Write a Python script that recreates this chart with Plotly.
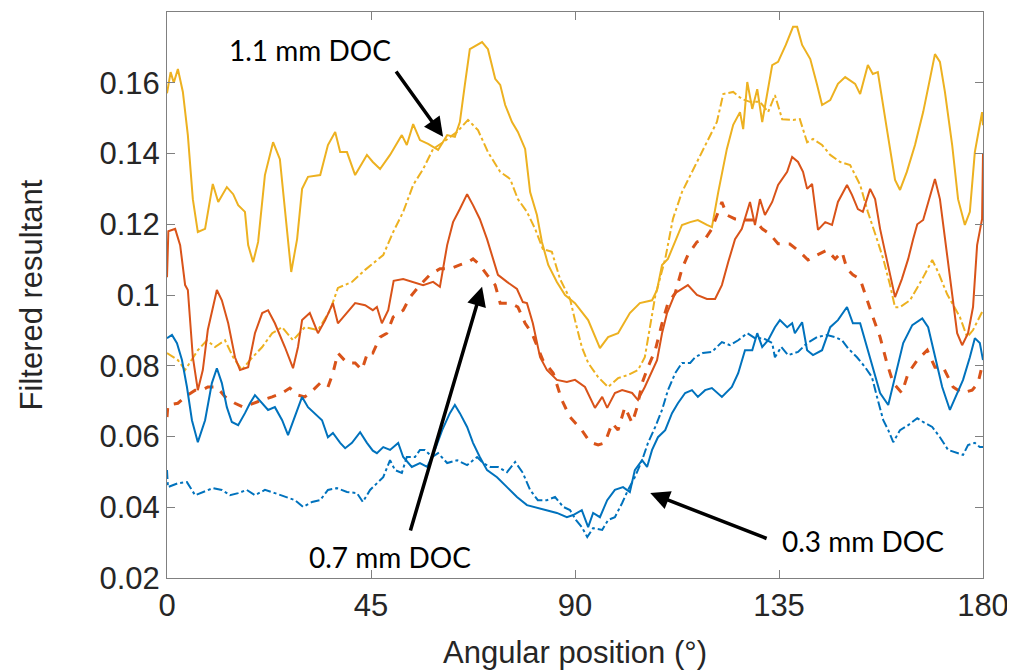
import plotly.graph_objects as go

# ---------------- data ----------------
x_y11_solid = [0, 0.8, 1.5, 2.4, 3.5, 4.6, 5.7, 6.8, 8.4, 10.1, 11.3, 13.2, 14.6, 15.7, 17.2, 17.9, 19.0, 20.1,
               21.6, 23.4, 24.9, 26.0, 27.4, 28.7, 29.8, 31.1, 33.8, 35.5, 37.1, 38.2, 39.7, 41.5, 44.1, 45.4,
               47.0, 49.2, 51.8, 52.9, 54.3, 55.8, 57.6, 59.8, 61.8, 63.5, 64.6, 65.7, 66.8, 69.5, 70.8, 72.4,
               73.5, 74.6, 76.1, 77.4, 79.0, 80.1, 81.6, 82.7, 84.1, 86.0, 87.8, 90.0, 92.9, 95.5, 97.3, 99.5,
               102.1, 104.3, 107.0, 108.1, 109.2, 110.5, 112.1, 113.6, 115.4, 117.1, 119.1, 120.2, 121.6, 123.5,
               124.9, 126.4, 127.1, 128.0, 129.1, 130.2, 131.3, 132.4, 133.5, 134.8, 136.5, 138.1, 139.0, 140.1,
               141.9, 143.4, 144.5, 146.3, 148.0, 149.6, 151.8, 152.9, 154.6, 155.7, 156.8, 158.8, 159.9, 160.6,
               161.7, 163.2, 165.0, 166.8, 168.3, 169.4, 170.5, 171.6, 173.2, 174.5, 176.0, 177.1, 178.2, 179.8, 180]
v_y11_solid = [0.157, 0.163, 0.160, 0.1639, 0.1574, 0.1452, 0.1271, 0.1178, 0.1187, 0.1314, 0.1263, 0.1305, 0.1285,
               0.1254, 0.1235, 0.1141, 0.1093, 0.1150, 0.1339, 0.1432, 0.1384, 0.1235, 0.1065, 0.1158, 0.1300,
               0.1334, 0.1339, 0.1424, 0.1461, 0.1404, 0.1404, 0.1339, 0.1396, 0.1376, 0.1356, 0.1396, 0.1452,
               0.1424, 0.1483, 0.1438, 0.1427, 0.1410, 0.1452, 0.1447, 0.1489, 0.1594, 0.1695, 0.1715, 0.1695,
               0.1611, 0.1594, 0.1537, 0.1489, 0.1461, 0.1413, 0.1291, 0.1226, 0.1150, 0.1085, 0.1037, 0.1000,
               0.0977, 0.0929, 0.0850, 0.0881, 0.0892, 0.0949, 0.0977, 0.0985, 0.1014, 0.1085, 0.1102, 0.1150,
               0.1198, 0.1206, 0.1212, 0.1198, 0.1192, 0.1291, 0.1413, 0.1481, 0.1517, 0.1469, 0.1602, 0.1526,
               0.1582, 0.1489, 0.1565, 0.1650, 0.1659, 0.1707, 0.1758, 0.1758, 0.1707, 0.1667, 0.1594, 0.1537,
               0.1551, 0.1597, 0.1616, 0.1597, 0.1568, 0.1650, 0.1625, 0.1630, 0.1469, 0.1384, 0.1325, 0.1297,
               0.1348, 0.1424, 0.1517, 0.1611, 0.1681, 0.1659, 0.1574, 0.1424, 0.1271, 0.1198, 0.1235, 0.1404,
               0.1517, 0.148]

x_y11_dash = [0, 2.4, 4.0, 5.5, 6.8, 8.8, 10.6, 12.8, 14.6, 16.5, 18.3, 21.0, 23.2, 25.4, 27.8, 30.4, 33.3, 36.0,
              37.7, 40.8, 43.7, 47.7, 49.9, 52.1, 54.3, 56.5, 58.7, 60.9, 64.0, 66.4, 68.6, 70.8, 73.5, 75.7,
              77.4, 79.4, 81.2, 82.9, 84.9, 86.7, 88.9, 90.0, 91.5, 92.9, 95.1, 97.3, 99.5, 101.7, 103.9, 105.4,
              106.6, 107.7, 109.9, 111.6, 113.6, 115.8, 117.6, 119.3, 121.3, 122.7, 124.9, 126.8, 128.6, 130.8,
              132.6, 134.1, 135.7, 138.1, 139.6, 141.2, 142.5, 144.5, 146.3, 148.5, 150.7, 152.9, 154.6, 156.6,
              158.0, 159.5, 160.6, 161.7, 163.9, 166.6, 168.8, 170.1, 172.1, 174.9, 176.5, 177.8, 179.3, 180]
v_y11_dash = [0.0836, 0.0816, 0.0788, 0.0816, 0.0844, 0.0872, 0.0853, 0.0872, 0.0824, 0.0788, 0.0816, 0.0853,
              0.0892, 0.0909, 0.0872, 0.0909, 0.0901, 0.0957, 0.1020, 0.1037, 0.1071, 0.1113, 0.1178, 0.1235,
              0.1311, 0.1356, 0.1413, 0.1432, 0.1461, 0.1495, 0.1466, 0.1404, 0.1348, 0.1328, 0.1271, 0.1235,
              0.1187, 0.1130, 0.1122, 0.1045, 0.0989, 0.0929, 0.0853, 0.0808, 0.0768, 0.0740, 0.0765, 0.0774,
              0.0788, 0.0824, 0.0920, 0.0997, 0.1102, 0.1215, 0.1291, 0.1348, 0.1396, 0.1441, 0.1489, 0.1568,
              0.1574, 0.1554, 0.1546, 0.1546, 0.1517, 0.1565, 0.1497, 0.1495, 0.1497, 0.1432, 0.1441, 0.1424,
              0.1396, 0.1376, 0.1367, 0.1311, 0.1235, 0.1158, 0.1102, 0.1028, 0.0965, 0.0966, 0.0985, 0.1045,
              0.1099, 0.1065, 0.1002, 0.0938, 0.0881, 0.0901, 0.0938, 0.0957]

x_o07_solid = [0, 0.3, 1.8, 2.9, 4.0, 4.6, 5.7, 6.8, 7.9, 9.0, 11.0, 12.1, 13.5, 15.0, 16.1, 17.9, 19.4, 21.0,
               22.3, 23.8, 26.0, 27.8, 28.9, 29.8, 31.5, 33.3, 34.9, 36.6, 37.7, 39.7, 41.5, 43.7, 45.4, 46.3,
               47.4, 48.8, 50.0, 52.1, 54.3, 56.5, 58.7, 60.2, 61.8, 63.1, 64.6, 66.2, 67.5, 69.0, 70.6, 71.9,
               73.0, 75.0, 77.2, 78.5, 79.4, 80.7, 82.3, 83.8, 86.0, 88.2, 90.0, 92.2, 94.4, 96.0, 97.1, 98.8,
               100.4, 102.6, 103.9, 105.4, 107.0, 108.1, 109.2, 110.3, 112.1, 114.9, 116.9, 119.1, 120.9, 122.4,
               123.8, 125.3, 126.8, 128.0, 128.6, 129.7, 130.8, 131.9, 133.5, 134.8, 136.8, 137.9, 139.2, 140.3,
               141.2, 142.3, 143.0, 143.6, 145.2, 146.7, 148.0, 150.0, 151.1, 152.4, 153.5, 155.1, 156.2, 157.3,
               158.4, 159.5, 160.6, 162.1, 163.5, 164.6, 165.5, 166.8, 167.7, 168.8, 169.4, 170.5, 171.6, 172.7,
               173.4, 174.3, 175.4, 176.7, 177.8, 178.7, 179.8, 180]
v_o07_solid = [0.105, 0.118, 0.1187, 0.1141, 0.1028, 0.1014, 0.0824, 0.0731, 0.0788, 0.0901, 0.1014, 0.0985,
               0.0920, 0.0824, 0.0788, 0.0796, 0.0892, 0.0949, 0.0957, 0.0920, 0.0853, 0.0793, 0.0853, 0.0929,
               0.0949, 0.0892, 0.0929, 0.0977, 0.0920, 0.0949, 0.0977, 0.0971, 0.0957, 0.0966, 0.0920, 0.0957,
               0.1040, 0.1045, 0.1037, 0.1028, 0.1037, 0.1023, 0.1141, 0.1206, 0.1243, 0.1285, 0.1254, 0.1215,
               0.1158, 0.1102, 0.1057, 0.1037, 0.1017, 0.0980, 0.0977, 0.0920, 0.0824, 0.0788, 0.0760, 0.0754,
               0.0760, 0.0740, 0.0681, 0.0712, 0.0681, 0.0723, 0.0731, 0.0723, 0.0703, 0.0740, 0.0788, 0.0816,
               0.0892, 0.0949, 0.1005, 0.1028, 0.1000, 0.0989, 0.0989, 0.1028, 0.1093, 0.1158, 0.1187, 0.1235,
               0.1263, 0.1198, 0.1271, 0.1226, 0.1263, 0.1311, 0.1348, 0.1390, 0.1376, 0.1348, 0.1300, 0.1314,
               0.1235, 0.1184, 0.1206, 0.1198, 0.1263, 0.1311, 0.1283, 0.1243, 0.1235, 0.1300, 0.1271, 0.1187,
               0.1122, 0.1057, 0.0994, 0.1045, 0.1102, 0.1158, 0.1200, 0.1212, 0.1254, 0.1300, 0.1328, 0.1271,
               0.1158, 0.1045, 0.0985, 0.0892, 0.0858, 0.0892, 0.0966, 0.1141, 0.1215, 0.140]

x_o07_dash = [0, 0.2, 2.4, 4.0, 6.2, 7.7, 9.0, 11.0, 12.8, 15.0, 16.8, 19.0, 21.0, 23.2, 25.4, 27.1, 28.9, 30.4,
              32.2, 33.8, 35.5, 36.6, 37.7, 39.7, 41.5, 43.0, 44.3, 45.4, 47.0, 48.5, 49.9, 52.1, 53.6, 55.8,
              58.0, 60.2, 62.4, 64.6, 66.4, 67.5, 69.0, 70.6, 72.4, 73.5, 75.7, 77.4, 79.0, 80.5, 82.9, 85.2,
              87.1, 88.9, 90.0, 91.5, 93.3, 95.1, 96.6, 98.2, 99.5, 101.0, 102.6, 103.7, 104.8, 106.1, 107.7,
              109.2, 110.5, 112.1, 113.6, 114.9, 116.9, 118.7, 120.2, 121.3, 122.4, 123.5, 125.3, 127.5, 129.7,
              131.3, 133.0, 134.8, 137.4, 139.6, 141.4, 143.4, 145.6, 147.4, 148.9, 150.0, 151.3, 152.9, 154.0,
              155.7, 157.3, 158.8, 160.2, 162.1, 163.5, 165.5, 167.7, 169.4, 171.2, 173.4, 175.4, 177.6, 178.9,
              179.8, 180]
v_o07_dash = [0.0655, 0.0689, 0.0694, 0.0712, 0.0731, 0.0731, 0.0740, 0.0740, 0.0712, 0.0694, 0.0683, 0.0694,
              0.0703, 0.0712, 0.0723, 0.0737, 0.0717, 0.0712, 0.0731, 0.0751, 0.0740, 0.0779, 0.0836, 0.0808,
              0.0808, 0.0788, 0.0839, 0.0836, 0.0881, 0.0892, 0.0938, 0.0957, 0.0994, 0.1028, 0.1057, 0.1074,
              0.1074, 0.1085, 0.1093, 0.1102, 0.1085, 0.1057, 0.1028, 0.0977, 0.0977, 0.0966, 0.0920, 0.0892,
              0.0816, 0.0779, 0.0703, 0.0655, 0.0640, 0.0618, 0.0584, 0.0576, 0.0582, 0.0638, 0.0618, 0.0683,
              0.0638, 0.0683, 0.0751, 0.0796, 0.0844, 0.0920, 0.0977, 0.1005, 0.1074, 0.1113, 0.1150, 0.1158,
              0.1187, 0.1226, 0.1263, 0.1226, 0.1215, 0.1212, 0.1212, 0.1187, 0.1172, 0.1145, 0.1144, 0.1122,
              0.1099, 0.1113, 0.1127, 0.1102, 0.1122, 0.1074, 0.1057, 0.1045, 0.1001, 0.0938, 0.0881, 0.0808,
              0.0751, 0.0723, 0.0779, 0.0816, 0.0844, 0.0796, 0.0796, 0.0740, 0.0723, 0.0731, 0.0751, 0.0796,
              0.0810]

x_b03_solid = [0, 1.1, 2.2, 3.3, 4.4, 5.5, 6.8, 8.4, 9.9, 11.0, 12.1, 13.2, 14.3, 15.7, 17.2, 18.3, 19.4, 21.0,
               22.3, 23.8, 25.4, 26.7, 28.2, 29.8, 31.1, 32.6, 34.2, 35.5, 36.6, 38.2, 39.3, 40.8, 42.6, 44.1,
               45.4, 46.3, 47.7, 49.2, 51.0, 52.1, 54.0, 55.8, 57.4, 59.1, 60.7, 62.4, 63.5, 64.6, 66.2, 67.5,
               69.0, 70.6, 72.8, 75.0, 77.2, 79.4, 81.6, 83.8, 86.0, 88.2, 89.6, 91.5, 92.9, 94.0, 95.5, 97.1,
               98.8, 100.6, 102.1, 103.2, 104.8, 105.9, 107.0, 108.3, 109.9, 111.4, 112.7, 114.3, 115.8, 117.1,
               118.7, 120.2, 122.4, 124.6, 126.0, 127.5, 129.1, 130.2, 131.3, 132.6, 134.1, 135.2, 136.8, 137.9,
               138.5, 140.1, 141.2, 142.5, 144.5, 146.3, 148.0, 150.0, 151.3, 152.9, 154.4, 155.7, 157.3, 159.1,
               160.6, 162.4, 164.4, 166.6, 167.9, 169.4, 171.0, 172.7, 174.3, 175.6, 177.1, 178.2, 179.3, 180]
v_b03_solid = [0.0878, 0.0887, 0.0864, 0.0816, 0.0740, 0.0646, 0.0584, 0.0646, 0.0751, 0.0793, 0.0751, 0.0683,
               0.0641, 0.0632, 0.0666, 0.0694, 0.0717, 0.0694, 0.0675, 0.0683, 0.0646, 0.0604, 0.0655, 0.0712,
               0.0683, 0.0666, 0.0646, 0.0598, 0.0610, 0.0582, 0.0567, 0.0582, 0.0612, 0.0582, 0.0560, 0.0553,
               0.0570, 0.0562, 0.0582, 0.0542, 0.0514, 0.0525, 0.0514, 0.0562, 0.0618, 0.0666, 0.0689, 0.0666,
               0.0627, 0.0582, 0.0542, 0.0505, 0.0485, 0.0457, 0.0429, 0.0406, 0.0398, 0.0392, 0.0384, 0.0372,
               0.0378, 0.0392, 0.0344, 0.0384, 0.0372, 0.0420, 0.0449, 0.0457, 0.0443, 0.0505, 0.0533, 0.0514,
               0.0562, 0.0598, 0.0618, 0.0666, 0.0694, 0.0723, 0.0731, 0.0712, 0.0731, 0.0737, 0.0712, 0.0740,
               0.0779, 0.0844, 0.0844, 0.0892, 0.0853, 0.0872, 0.0909, 0.0929, 0.0909, 0.0920, 0.0892, 0.0923,
               0.0844, 0.0830, 0.0844, 0.0909, 0.0929, 0.0966, 0.0920, 0.0920, 0.0853, 0.0796, 0.0723, 0.0689,
               0.0768, 0.0864, 0.0915, 0.0934, 0.0909, 0.0824, 0.0740, 0.0675, 0.0723, 0.0760, 0.0824, 0.0878,
               0.0864, 0.0816]

x_b03_dash = [0, 0.2, 2.4, 4.4, 6.2, 7.9, 10.1, 12.1, 13.9, 15.7, 17.6, 19.4, 21.6, 23.8, 26.0, 28.2, 30.0, 32.0,
              33.8, 35.5, 37.5, 39.7, 41.9, 43.2, 44.8, 46.3, 47.7, 49.2, 50.3, 51.8, 52.9, 54.7, 55.8, 56.9,
              58.5, 59.8, 61.8, 64.0, 66.2, 68.4, 69.7, 71.3, 73.0, 75.0, 76.8, 78.5, 80.1, 81.8, 83.8, 85.6,
              87.4, 88.9, 90.2, 91.5, 92.7, 94.0, 96.0, 97.3, 98.8, 100.4, 101.7, 103.2, 104.8, 106.1, 107.7,
              109.2, 110.5, 112.1, 113.6, 115.4, 116.5, 118.2, 120.2, 122.4, 124.2, 126.0, 128.0, 129.7, 131.5,
              133.5, 134.1, 135.5, 137.0, 139.2, 141.2, 143.4, 145.6, 147.4, 148.9, 150.2, 152.2, 154.0, 155.5,
              156.8, 158.0, 159.1, 160.2, 161.7, 163.5, 165.5, 166.8, 168.8, 170.5, 172.3, 174.3, 175.6, 176.7,
              178.2, 179.3, 180]
v_b03_dash = [0.0505, 0.0457, 0.0468, 0.0471, 0.0434, 0.0443, 0.0454, 0.0449, 0.0434, 0.0440, 0.0449, 0.0434,
              0.0449, 0.0440, 0.0429, 0.0420, 0.0401, 0.0415, 0.0420, 0.0449, 0.0454, 0.0443, 0.0440, 0.0415,
              0.0449, 0.0468, 0.0485, 0.0533, 0.0505, 0.0497, 0.0542, 0.0542, 0.0562, 0.0562, 0.0542, 0.0553,
              0.0525, 0.0533, 0.0519, 0.0542, 0.0525, 0.0514, 0.0514, 0.0499, 0.0528, 0.0497, 0.0449, 0.0420,
              0.0420, 0.0429, 0.0401, 0.0392, 0.0364, 0.0344, 0.0316, 0.0341, 0.0336, 0.0364, 0.0372, 0.0412,
              0.0449, 0.0485, 0.0533, 0.0582, 0.0627, 0.0675, 0.0731, 0.0779, 0.0808, 0.0808, 0.0824, 0.0836,
              0.0839, 0.0867, 0.0858, 0.0872, 0.0892, 0.0878, 0.0878, 0.0864, 0.0824, 0.0853, 0.0830, 0.0839,
              0.0864, 0.0881, 0.0887, 0.0881, 0.0872, 0.0850, 0.0824, 0.0796, 0.0768, 0.0703, 0.0646, 0.0618,
              0.0584, 0.0618, 0.0632, 0.0652, 0.0641, 0.0627, 0.0598, 0.0562, 0.0553, 0.0548, 0.0576, 0.0582,
              0.0570, 0.0570]

x_ticks = [0, 45, 90, 135, 180]
y_ticks = [0.02, 0.04, 0.06, 0.08, 0.1, 0.12, 0.14, 0.16]
y_ticktext = ["0.02", "0.04", "0.06", "0.08", "0.1", "0.12", "0.14", "0.16"]

BLUE = "#0072BD"
ORANGE = "#D95319"
YELLOW = "#EDB120"

fig = go.Figure()
series = [
    (x_y11_solid, v_y11_solid, YELLOW, "solid", 2),
    (x_y11_dash, v_y11_dash, YELLOW, "dashdot", 2),
    (x_o07_solid, v_o07_solid, ORANGE, "solid", 2),
    (x_o07_dash, v_o07_dash, ORANGE, "dash", 3),
    (x_b03_solid, v_b03_solid, BLUE, "solid", 2),
    (x_b03_dash, v_b03_dash, BLUE, "dashdot", 2),
]
for xs, ys, col, dash, w in series:
    fig.add_trace(go.Scatter(x=xs, y=ys, mode="lines",
                             line=dict(color=col, dash=dash, width=w),
                             showlegend=False, hoverinfo="skip"))

txt_font = dict(family="Lato, Open Sans, sans-serif", size=28, color="black")
arrows = [
    # text, text position, arrow tip, arrow tail
    ("1.1 mm DOC", (31.5, 0.1693), (60.9, 0.1447), (50.3, 0.1636)),
    ("0.7 mm DOC", (49.2, 0.0259), (69.5, 0.1023), (53.6, 0.0330)),
    ("0.3 mm DOC", (153.5, 0.0305), (106.6, 0.0440), (132.6, 0.0310)),
]
for text, (tx, ty), (hx, hy), (ax_, ay_) in arrows:
    fig.add_annotation(x=tx, y=ty, text=text, showarrow=False, font=txt_font,
                       xref="x", yref="y")
    fig.add_annotation(x=hx, y=hy, ax=ax_, ay=ay_, xref="x", yref="y", axref="x", ayref="y",
                       text="", showarrow=True, arrowhead=2, arrowsize=1.1, arrowwidth=3.5,
                       arrowcolor="black")

axis_font = dict(family="Liberation Sans, Arial, sans-serif", size=31, color="#262626")
# the page body adds an 8 px offset, so the figure is sized and padded to compensate
fig.update_layout(
    width=1007, height=663,
    margin=dict(l=159, r=32, t=4, b=93),
    paper_bgcolor="white", plot_bgcolor="white",
    font=axis_font,
)
fig.update_xaxes(range=[0, 180], tickvals=x_ticks, ticks="inside", ticklen=8, tickcolor="#808080",
                 showline=True, linecolor="#808080", linewidth=1, mirror="ticks", showgrid=False,
                 zeroline=False, tickfont=axis_font, automargin=False,
                 title=dict(text="Angular position (°)", font=axis_font, standoff=19))
fig.update_yaxes(range=[0.02, 0.18], tickvals=y_ticks, ticktext=y_ticktext, ticks="inside", ticklen=8,
                 tickcolor="#808080", showline=True, linecolor="#808080", linewidth=1, mirror="ticks",
                 showgrid=False, zeroline=False, tickfont=axis_font, automargin=False,
                 title=dict(text="Filtered resultant", font=axis_font, standoff=47))

fig.write_html("out.html")
